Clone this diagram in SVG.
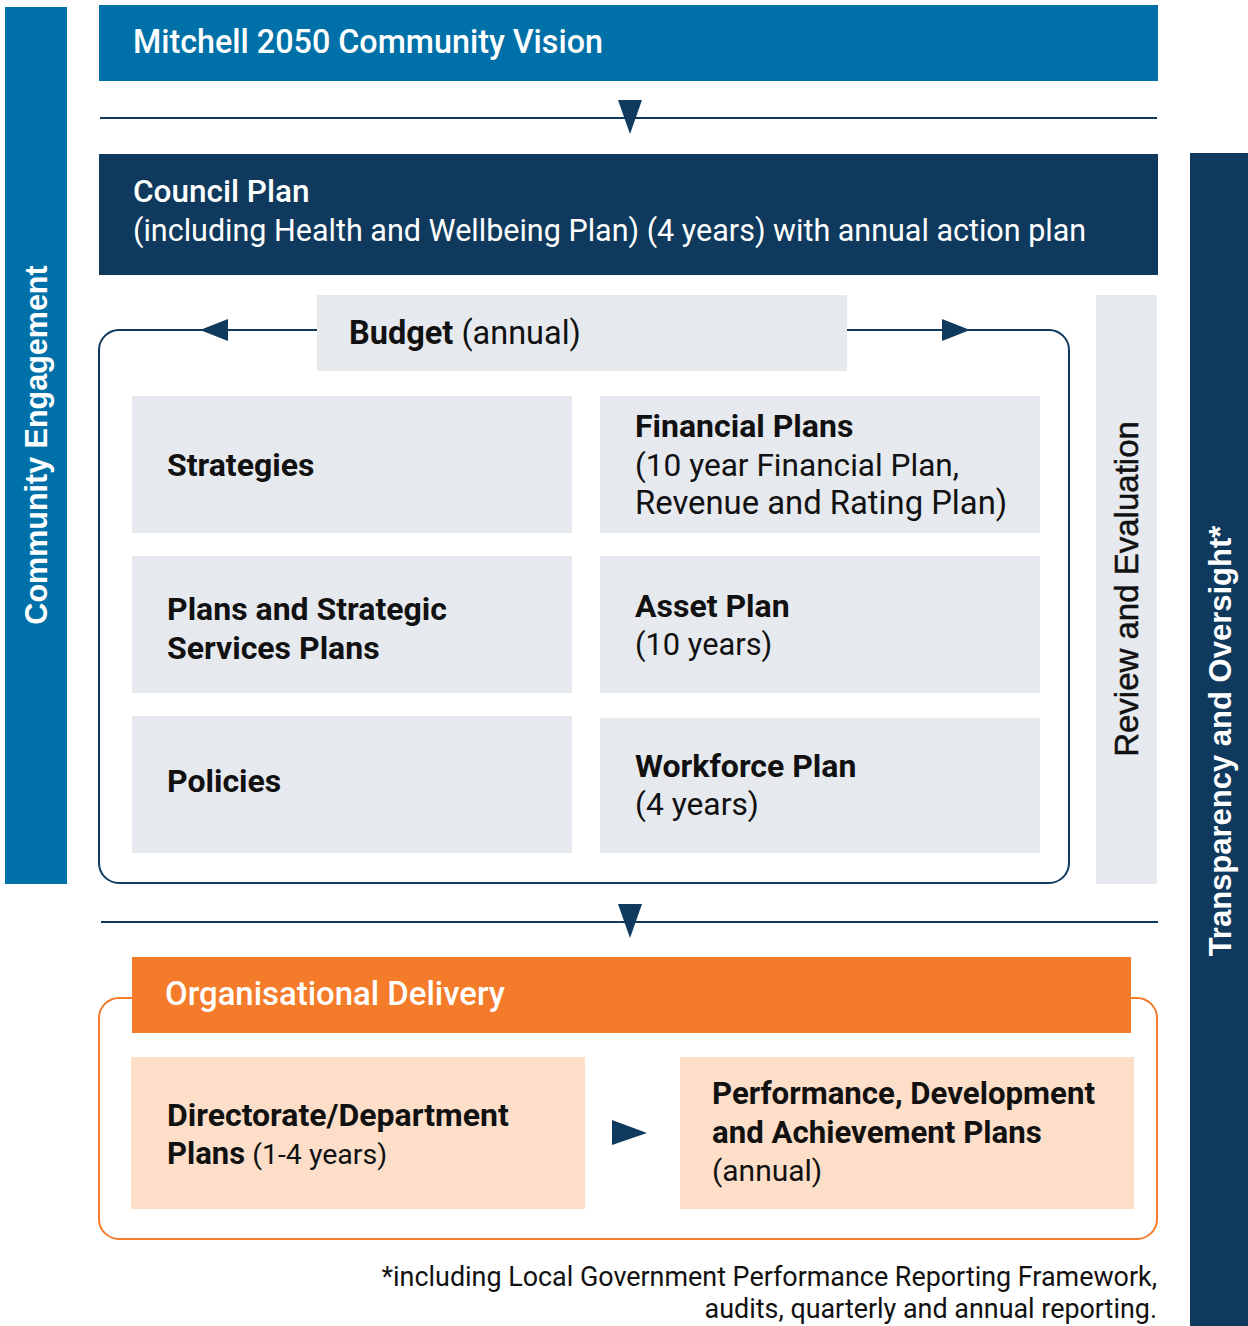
<svg xmlns="http://www.w3.org/2000/svg" width="1248" height="1326" viewBox="0 0 1248 1326">
  <style>
    .t { font-family: Roboto, "Noto Sans", "Liberation Sans", sans-serif; font-size: 32px; fill: #111; }
    .w { fill: #ffffff; }
    .b { font-weight: 700; }
    .m { font-weight: 500; }
    .l { font-weight: 400; }
    .side { font-family: "Liberation Sans", Arial, sans-serif; font-size: 30.5px; }
    .navy { fill: #0f3a5e; }
    .grey { fill: #e6e9ee; }
    .peach { fill: #fddec8; }
    .conn { stroke: #0f3a5e; stroke-width: 2; fill: none; }
  </style>

  <!-- side bands -->
  <g id="community-engagement">
    <rect x="5" y="7" width="62" height="877" fill="#0070a8"/>
    <text class="side w b" transform="translate(47,445) rotate(-90)" text-anchor="middle">Community Engagement</text>
  </g>
  <g id="transparency-oversight">
    <rect x="1190" y="153" width="58" height="1173" class="navy"/>
    <text class="side w b" style="font-size:31px" transform="translate(1231,741) rotate(-90)" text-anchor="middle">Transparency and Oversight*</text>
  </g>
  <g id="review-evaluation">
    <rect x="1096" y="295" width="61" height="589" class="grey"/>
    <text class="side" style="font-size:33px" fill="#111" stroke="#111" stroke-width="0.5" transform="translate(1138,589) rotate(-90)" text-anchor="middle">Review and Evaluation</text>
  </g>

  <!-- connectors -->
  <g id="connectors">
    <line class="conn" x1="100" y1="118" x2="1157" y2="118"/>
    <polygon class="navy" points="618,100 642,100 630,134"/>
    <rect class="conn" x="99" y="330" width="970" height="553" rx="20" ry="20"/>
    <polygon class="navy" points="200,330 228,319 228,341"/>
    <polygon class="navy" points="970,330 942,319 942,341"/>
    <line class="conn" x1="101" y1="922" x2="1158" y2="922" stroke-width="2.5"/>
    <polygon class="navy" points="618,904 642,904 630,938"/>
    <rect x="99" y="998" width="1058" height="241" rx="20" ry="20" fill="none" stroke="#f47b2a" stroke-width="2"/>
    <polygon class="navy" points="612,1120 647,1133 612,1145"/>
  </g>

  <!-- main nodes -->
  <g id="vision">
    <rect x="99" y="5" width="1059" height="76" fill="#0070a8"/>
    <text class="t w m" style="font-size:32.3px" x="133" y="53">Mitchell 2050 Community Vision</text>
  </g>
  <g id="council-plan">
    <rect x="99" y="154" width="1059" height="121" class="navy"/>
    <text class="t w m" style="font-size:31.5px" x="133" y="202">Council Plan</text>
    <text class="t w l" style="font-size:30.5px" x="133" y="241">(including Health and Wellbeing Plan) (4 years) with annual action plan</text>
  </g>
  <g id="budget">
    <rect x="317" y="295" width="530" height="76" class="grey"/>
    <text class="t" x="349" y="344"><tspan class="b" style="font-size:32.5px">Budget</tspan><tspan class="l" style="font-size:32.5px"> (annual)</tspan></text>
  </g>
  <g id="strategies">
    <rect x="132" y="396" width="440" height="137" class="grey"/>
    <text class="t b" x="167" y="476">Strategies</text>
  </g>
  <g id="financial-plans">
    <rect x="600" y="396" width="440" height="137" class="grey"/>
    <text class="t b" x="635" y="437">Financial Plans</text>
    <text class="t l" style="font-size:31.6px" x="635" y="476">(10 year Financial Plan,</text>
    <text class="t l" style="font-size:32.8px" x="635" y="514">Revenue and Rating Plan)</text>
  </g>
  <g id="plans-strategic">
    <rect x="132" y="556" width="440" height="137" class="grey"/>
    <text class="t b" x="167" y="620">Plans and Strategic</text>
    <text class="t b" x="167" y="659">Services Plans</text>
  </g>
  <g id="asset-plan">
    <rect x="600" y="556" width="440" height="137" class="grey"/>
    <text class="t b" x="635" y="617">Asset Plan</text>
    <text class="t l" style="font-size:30.8px" x="635" y="655">(10 years)</text>
  </g>
  <g id="policies">
    <rect x="132" y="716" width="440" height="137" class="grey"/>
    <text class="t b" x="167" y="792">Policies</text>
  </g>
  <g id="workforce-plan">
    <rect x="600" y="718" width="440" height="135" class="grey"/>
    <text class="t b" x="635" y="777">Workforce Plan</text>
    <text class="t l" style="font-size:31.8px" x="635" y="815">(4 years)</text>
  </g>

  <g id="organisational-delivery">
    <rect x="132" y="957" width="999" height="76" fill="#f47b2a"/>
    <text class="t w m" style="font-size:32.9px" x="165" y="1005">Organisational Delivery</text>
  </g>
  <g id="directorate-plans">
    <rect x="131" y="1057" width="454" height="152" class="peach"/>
    <text class="t b" x="167" y="1126">Directorate/Department</text>
    <text class="t" x="167" y="1164"><tspan class="b" style="font-size:31px">Plans</tspan><tspan class="l" style="font-size:28.5px"> (1-4 years)</tspan></text>
  </g>
  <g id="performance-plans">
    <rect x="680" y="1057" width="454" height="152" class="peach"/>
    <text class="t b" style="font-size:31.2px" x="712" y="1104">Performance, Development</text>
    <text class="t b" style="font-size:31.2px" x="712" y="1143">and Achievement Plans</text>
    <text class="t l" style="font-size:30px" x="712" y="1181">(annual)</text>
  </g>

  <!-- footnote -->
  <text class="t l" style="font-size:26.9px" x="1157" y="1286" text-anchor="end">*including Local Government Performance Reporting Framework,</text>
  <text class="t l" style="font-size:26.9px" x="1157" y="1318" text-anchor="end">audits, quarterly and annual reporting.</text>
</svg>
